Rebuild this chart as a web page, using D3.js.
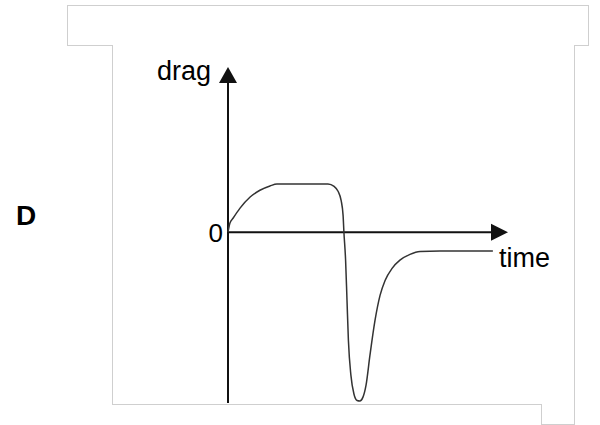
<!DOCTYPE html>
<html lang="en">
<head>
<meta charset="UTF-8">
<title>drag vs time</title>
<script src="https://d3js.org/d3.v7.min.js"></script>
<style>
  body { margin: 0; background: #fff; }
  text { font-family: "Liberation Sans", Arial, sans-serif; fill: #000; }
</style>
</head>
<body>
<svg id="chart"></svg>
<script>
// curve data: time (arbitrary units) and drag (arbitrary units)
const times = [0, 0.07, 0.18, 0.43, 0.79, 1.14, 1.5, 1.75, 3.57, 3.79, 3.93, 4.04, 4.11, 4.14,
               4.2, 4.25, 4.3, 4.39, 4.5, 4.61, 4.71, 4.82, 4.93, 5.07, 5.25, 5.43, 5.61,
               5.86, 6.14, 6.5, 6.86, 7.57, 9.46];
const drag  = [0, 0.19, 0.29, 0.5, 0.73, 0.87, 0.96, 1.0, 1.0, 0.95, 0.85, 0.66, 0.35, 0,
               -0.58, -1.41, -2.24, -2.97, -3.36, -3.49, -3.5, -3.42, -3.17, -2.55, -1.83, -1.31, -1.0,
               -0.75, -0.58, -0.46, -0.4, -0.39, -0.39];
const xLabel = "time";
const yLabel = "drag";
const zeroLabel = "0";
const panelLabel = "D";

const width = 600, height = 425;
const svg = d3.select("#chart").attr("width", width).attr("height", height);

// scales
const x = d3.scaleLinear().domain([0, 10]).range([228, 508]);
const y = d3.scaleLinear().domain([-3.5, 1]).range([401, 184]);

// background frame (light double outline)
const frame = "M69,7 H587 V44 H573 V423 H543 V403 H114 V44 H69 Z";
svg.append("path").attr("d", frame).attr("fill", "#fff")
  .attr("stroke", "#cfcfcf").attr("stroke-width", 4);
svg.append("path").attr("d", frame).attr("fill", "#fff")
  .attr("stroke", "#fff").attr("stroke-width", 2);

// axes
const x0 = x(0), y0 = y(0);
const yBottom = 403, yTop = 67, xTip = x(10);
svg.append("line")
  .attr("x1", x0).attr("x2", xTip - 16)
  .attr("y1", y0).attr("y2", y0)
  .attr("stroke", "#111").attr("stroke-width", 2);
svg.append("path")
  .attr("d", `M${xTip},${y0} L${xTip - 17},${y0 - 8.5} L${xTip - 17},${y0 + 8.5} Z`)
  .attr("fill", "#111");
svg.append("line")
  .attr("x1", x0).attr("x2", x0)
  .attr("y1", yBottom).attr("y2", yTop + 14)
  .attr("stroke", "#111").attr("stroke-width", 2);
svg.append("path")
  .attr("d", `M${x0},${yTop} L${x0 - 9},${yTop + 16} L${x0 + 9},${yTop + 16} Z`)
  .attr("fill", "#111");

// curve
const line = d3.line()
  .x((d, i) => x(times[i]))
  .y(d => y(d))
  .curve(d3.curveMonotoneX);
svg.append("path")
  .datum(drag)
  .attr("d", line)
  .attr("fill", "none")
  .attr("stroke", "#333")
  .attr("stroke-width", 1.5);

// labels
svg.append("text").attr("x", 157).attr("y", 80)
  .attr("font-size", 27).text(yLabel);
svg.append("text").attr("x", 499).attr("y", 267)
  .attr("font-size", 27).text(xLabel);
svg.append("text").attr("x", 223).attr("y", 242)
  .attr("text-anchor", "end").attr("font-size", 26).text(zeroLabel);
svg.append("text").attr("x", 16).attr("y", 225)
  .attr("font-size", 28).attr("font-weight", "bold").text(panelLabel);
</script>
</body>
</html>
